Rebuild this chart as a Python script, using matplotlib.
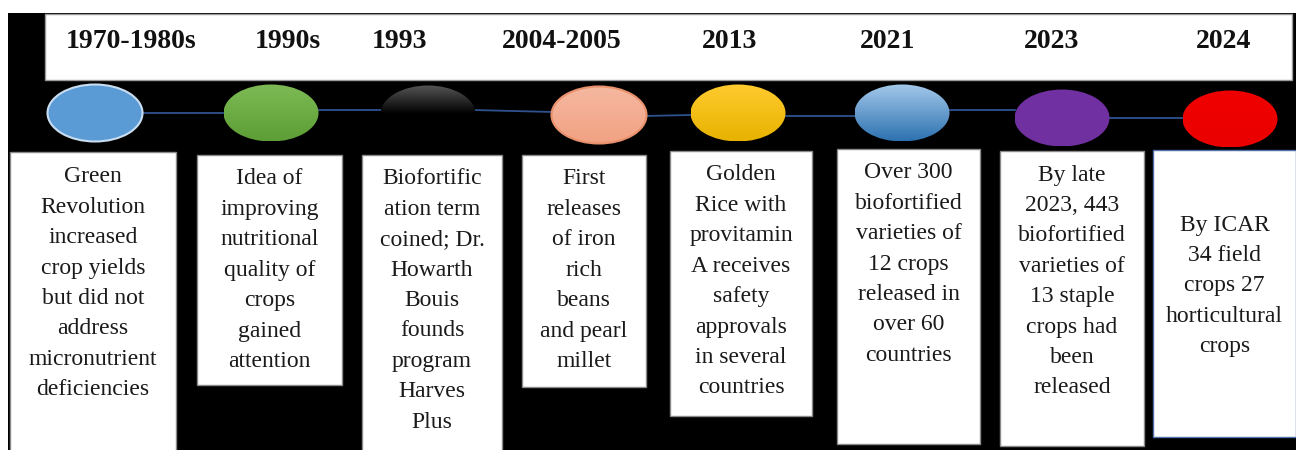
import matplotlib
matplotlib.use("Agg")
import matplotlib.pyplot as plt
import numpy as np
from matplotlib.patches import Rectangle, Ellipse
from matplotlib.colors import LinearSegmentedColormap

# %% data
years = ["1970-1980s", "1990s", "1993", "2004-2005", "2013", "2021", "2023", "2024"]
events = [
    ["Green", "Revolution", "increased", "crop yields", "but did not", "address",
     "micronutrient", "deficiencies"],
    ["Idea of", "improving", "nutritional", "quality of", "crops", "gained", "attention"],
    ["Biofortific", "ation term", "coined; Dr.", "Howarth", "Bouis", "founds",
     "program", "Harves", "Plus"],
    ["First", "releases", "of iron", "rich", "beans", "and pearl", "millet"],
    ["Golden", "Rice with", "provitamin", "A receives", "safety", "approvals",
     "in several", "countries"],
    ["Over 300", "biofortified", "varieties of", "12 crops", "released in",
     "over 60", "countries"],
    ["By late", "2023, 443", "biofortified", "varieties of", "13 staple",
     "crops had", "been", "released"],
    ["By ICAR", "34 field", "crops 27", "horticultural", "crops"],
]
# top / bottom colour of each node
node_colors = [
    ("#5B9BD5", "#5B9BD5"),
    ("#7DBA55", "#5E9E36"),
    ("#555555", "#000000"),
    ("#F5B8A0", "#F2A283"),
    ("#FFCB2E", "#E8B200"),
    ("#A3C8EA", "#2E72B0"),
    ("#7231A2", "#7030A0"),
    ("#F00000", "#EA0000"),
]

# %% layout (pixels, y grows downward)
year_x = [131, 288, 400, 562, 730, 888, 1052, 1224]
node_xy = [(95, 113), (271, 113), (428, 114), (599, 115),
           (738, 113), (902, 113), (1062, 118), (1230, 119)]
node_w, node_h = 95, 57
links = [((142, 113), (223, 113)), ((314, 110), (383, 110)),
         ((473, 110), (553, 112)), ((644, 116), (691, 115)),
         ((786, 116), (855, 116)), ((949, 110), (1015, 110)),
         ((1108, 118), (1183, 118))]
boxes = [(10, 152, 166, 300), (197, 155, 145, 230), (362, 155, 140, 297),
         (522, 155, 124, 232), (670, 151, 142, 265), (837, 149, 143, 295),
         (1000, 151, 144, 295), (1153, 150, 143, 287)]
text_top = [177, 179, 179, 179, 175, 173, 175, 225]
line_gap = 30.4

fig = plt.figure(figsize=(12.96, 4.5), dpi=100)
ax = fig.add_axes([0, 0, 1, 1])
ax.axis("off")

ax.add_patch(Rectangle((8, 13), 1290, 440, fc="black", ec="none", zorder=0))
ax.add_patch(Rectangle((45, 14), 1247, 66, fc="white", ec="#9a9a9a", lw=1, zorder=1))

for x, y in zip(year_x, years):
    ax.text(x, 42, y, ha="center", va="center", fontsize=20, fontweight="bold",
            family="Liberation Serif", color="#111111", zorder=5)

for (p0, p1) in links:
    ax.plot([p0[0], p1[0]], [p0[1], p1[1]], color="#2F528F", lw=1.3, zorder=2)

for i, ((cx, cy), (top, bot)) in enumerate(zip(node_xy, node_colors)):
    edge = {0: "#C9DDF0", 3: "#E8916C"}.get(i, "none")
    e = Ellipse((cx, cy), node_w, node_h, fc="none", ec=edge, lw=1.5, zorder=4)
    ax.add_patch(e)
    stops = [top, bot, bot] if i == 2 else [top, bot]
    cmap = LinearSegmentedColormap.from_list("g%d" % i, stops)
    grad = np.linspace(0, 1, 64)[:, None]
    im = ax.imshow(grad, extent=(cx - node_w / 2, cx + node_w / 2, cy + node_h / 2, cy - node_h / 2),
                   cmap=cmap, aspect="auto", zorder=3, interpolation="bilinear")
    im.set_clip_path(e)

for i, ((bx, by, bw, bh), lines) in enumerate(zip(boxes, events)):
    ec = "#5070A8" if i == 7 else "#8a8a8a"
    ax.add_patch(Rectangle((bx, by), bw, bh, fc="white", ec=ec, lw=1, zorder=1))
    for j, ln in enumerate(lines):
        ax.text(bx + bw / 2, text_top[i] + j * line_gap, ln, ha="center", va="center",
                fontsize=17, family="Liberation Serif", color="#1a1a1a", zorder=5)

ax.set_xlim(0, 1296)
ax.set_ylim(450, 0)
fig.savefig("out.png", dpi=100, facecolor="white")
